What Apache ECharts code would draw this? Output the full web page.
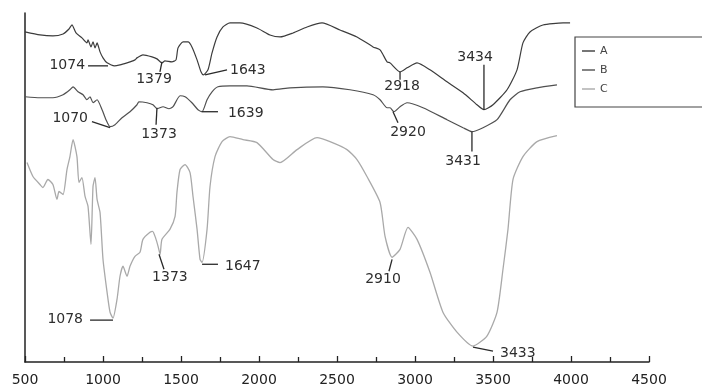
<!DOCTYPE html>
<html>
<head>
<meta charset="utf-8">
<script src="https://cdn.jsdelivr.net/npm/echarts@6/dist/echarts.min.js"></script>
<style>
html,body{margin:0;padding:0;background:#fff;}
#chart{width:702px;height:387px;}
</style>
</head>
<body>
<div id="chart"></div>
<script>
// Wavenumber (cm-1) vs. transmittance (arbitrary, offset units)
const seriesNames = ['A', 'B', 'C'];
const xTicks = [500, 1000, 1500, 2000, 2500, 3000, 3500, 4000, 4500];

const spectrumA = [
  [500,331],[596,328],[679,327],[744,329],[782,334],[801,338],[827,330],[865,325],[897,320],[904,323],
  [923,316],[936,321],[949,315],[962,320],[981,311],[1000,305],[1026,300],[1074,297],[1109,298],[1154,300],
  [1173,301],[1205,303],[1218,305],[1256,308],[1314,306],[1346,304],[1378,300],[1397,302],[1442,301],[1468,303],
  [1481,315],[1513,321],[1545,321],[1570,316],[1603,303],[1628,291],[1643,288],[1673,293],[1699,310],[1731,326],
  [1769,336],[1814,340],[1878,340],[1987,335],[2070,328],[2135,326],[2218,330],[2308,336],[2404,340],[2519,333],
  [2628,326],[2731,316],[2776,313],[2821,301],[2840,300],[2904,291],[2949,295],[3013,300],[3096,293],[3205,281],
  [3308,270],[3397,258],[3442,253],[3500,258],[3590,273],[3654,293],[3692,320],[3737,331],[3820,338],[3949,340],[3994,340]
];

const spectrumB = [
  [500,266],[596,265],[679,265],[744,268],[788,273],[808,276],[840,271],[872,268],[897,263],[917,266],
  [936,260],[962,263],[994,253],[1019,243],[1045,236],[1077,238],[1122,245],[1173,251],[1218,258],[1230,261],
  [1282,260],[1320,258],[1346,254],[1385,256],[1423,254],[1449,256],[1494,267],[1526,266],[1570,260],[1609,253],
  [1635,251],[1667,263],[1699,271],[1737,276],[1814,277],[1923,277],[2090,273],[2199,275],[2410,276],[2583,273],
  [2731,268],[2776,263],[2821,255],[2840,255],[2865,251],[2904,256],[2949,260],[3051,255],[3205,243],[3308,235],
  [3365,231],[3436,235],[3526,243],[3609,263],[3673,271],[3782,275],[3910,278]
];

const spectrumC = [
  [513,200],[551,186],[596,178],[615,175],[647,183],[679,178],[705,163],[718,171],[744,168],[769,193],
  [788,206],[808,223],[833,206],[846,180],[865,185],[885,166],[904,156],[923,118],[936,176],[949,185],
  [962,163],[981,150],[1000,103],[1026,70],[1045,50],[1064,44],[1090,63],[1109,86],[1128,96],[1154,86],
  [1173,96],[1205,106],[1237,110],[1256,123],[1301,130],[1318,131],[1338,124],[1353,116],[1366,108],[1378,123],
  [1429,133],[1462,146],[1474,170],[1494,193],[1526,198],[1558,190],[1577,166],[1603,133],[1622,103],[1635,100],
  [1667,133],[1686,176],[1718,206],[1763,221],[1814,226],[1897,223],[1987,220],[2090,203],[2135,200],[2244,213],
  [2372,225],[2455,221],[2564,213],[2628,203],[2692,186],[2776,160],[2808,126],[2853,105],[2904,113],[2955,135],
  [3013,123],[3096,90],[3179,50],[3269,30],[3372,16],[3461,26],[3526,50],[3564,93],[3596,133],[3628,183],
  [3692,206],[3782,221],[3910,227]
];

// Peak annotations: pointer from (x1,y1) to (x2,y2); text at (tx,ty); align
const peakLabels    = ['1074','1379','1643','2918','3434','1070','1373','1639','2920','3431','1078','1373','1647','2910','3433'];
const peakPointer   = [
  [904,297,1032,297],[1378,301,1365,291],[1654,288,1795,293],[2904,291,2904,283],[3442,298,3442,253],
  [929,241,1045,235],[1346,255,1340,238],[1635,251,1737,251],[2859,251,2891,240],[3365,231,3365,211],
  [917,42,1064,42],[1359,108,1391,93],[1635,98,1737,98],[2853,103,2833,91],[3372,15,3500,11]
];
const peakTextPos   = [
  [885,297],[1327,283],[1814,292],[2917,276],[3385,306],
  [904,244],[1359,228],[1801,249],[2955,230],[3308,201],
  [872,43],[1429,85],[1782,96],[2795,83],[3545,9]
];
const peakTextAlign = ['right','center','left','center','center','right','center','left','center','center','right','center','left','center','left'];

const colors = ['#3c3c3c', '#505050', '#a9a9a9'];
const FONT = 'DejaVu Sans';

const chart = echarts.init(document.getElementById('chart'), null, {renderer: 'canvas'});

const lineSeries = [spectrumA, spectrumB, spectrumC].map((d, i) => ({
  name: seriesNames[i],
  type: 'line',
  data: d,
  showSymbol: false,
  symbol: 'none',
  smooth: 0.2,
  lineStyle: {color: colors[i], width: i === 2 ? 1.3 : 1.2},
  itemStyle: {color: colors[i]},
  emphasis: {disabled: true},
  z: 3 - i
}));

const annotationSeries = {
  type: 'custom',
  name: 'peaks',
  silent: true,
  clip: false,
  data: peakPointer.map(p => [p[0], p[1]]),
  renderItem: function (params, api) {
    const i = params.dataIndex;
    const p = peakPointer[i];
    const a = api.coord([p[0], p[1]]);
    const b = api.coord([p[2], p[3]]);
    const t = api.coord(peakTextPos[i]);
    return {
      type: 'group',
      children: [
        {type: 'line', shape: {x1: a[0], y1: a[1], x2: b[0], y2: b[1]},
         style: {stroke: '#2a2a2a', lineWidth: 1.3}},
        {type: 'text', x: t[0], y: t[1],
         style: {text: peakLabels[i], fill: '#2e2e2e', font: '14px "' + FONT + '"',
                 textAlign: peakTextAlign[i], textVerticalAlign: 'middle'}}
      ]
    };
  },
  z: 5
};

chart.setOption({
  animation: false,
  backgroundColor: '#ffffff',
  grid: {left: 25, right: 53, top: 13, bottom: 24, containLabel: false},
  legend: {
    data: seriesNames,
    orient: 'vertical',
    left: 575,
    top: 37,
    padding: [8, 130, 12, 7],
    itemGap: 7,
    itemWidth: 13,
    itemHeight: 12,
    icon: 'path://M0,0L13,0L13,1.4L0,1.4Z',
    borderColor: '#444',
    borderWidth: 1.2,
    borderRadius: 0,
    textStyle: {fontFamily: FONT, fontSize: 11, color: '#444', lineHeight: 12, padding: [0, 0, 0, 0]},
    selectedMode: false
  },
  xAxis: {
    type: 'value',
    min: 500,
    max: 4500,
    interval: 500,
    axisLine: {show: true, onZero: false, lineStyle: {color: '#222', width: 1.5}},
    axisTick: {show: true, inside: true, length: 6, lineStyle: {color: '#222', width: 1.3}},
    minorTick: {show: true, splitNumber: 2, length: 5, lineStyle: {color: '#222', width: 1.3}},
    axisLabel: {show: true, margin: 11, fontFamily: FONT, fontSize: 14, color: '#222',
                formatter: v => (xTicks.indexOf(v) >= 0 ? String(v) : '')},
    splitLine: {show: false},
    minorSplitLine: {show: false}
  },
  yAxis: {
    type: 'value',
    min: 0,
    max: 350,
    axisLine: {show: true, onZero: false, lineStyle: {color: '#222', width: 1.5}},
    axisTick: {show: false},
    axisLabel: {show: false},
    splitLine: {show: false}
  },
  series: [...lineSeries, annotationSeries]
});
</script>
</body>
</html>
